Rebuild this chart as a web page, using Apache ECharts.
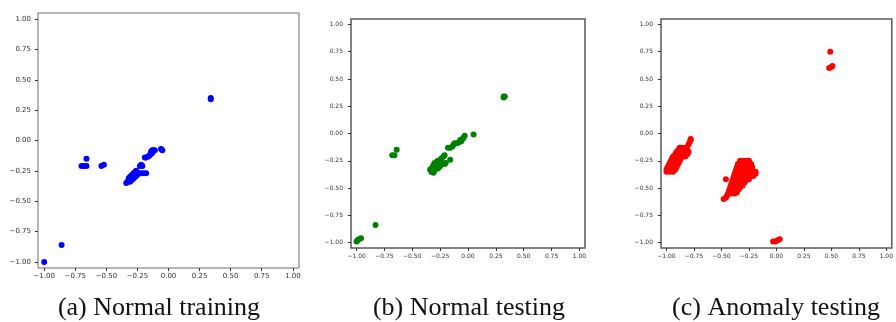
<!DOCTYPE html>
<html>
<head>
<meta charset="utf-8">
<script src="https://cdn.jsdelivr.net/npm/echarts@6/dist/echarts.min.js"></script>
<style>
  html, body { margin: 0; padding: 0; background: #fff; }
  #chart { width: 896px; height: 322px; }
</style>
</head>
<body>
<div id="chart"></div>
<script>
const tickValues = [-1, -0.75, -0.5, -0.25, 0, 0.25, 0.5, 0.75, 1];
const tickLabels = ["−1.00", "−0.75", "−0.50", "−0.25", "0.00", "0.25", "0.50", "0.75", "1.00"];
const captions = ["(a) Normal training", "(b) Normal testing", "(c) Anomaly testing"];

const normalTraining = [
  [-1.00, -1.00], [-0.86, -0.86],
  [-0.70, -0.21], [-0.68, -0.21], [-0.66, -0.21], [-0.66, -0.15],
  [-0.54, -0.21], [-0.52, -0.20],
  [-0.34, -0.35], [-0.33, -0.34], [-0.32, -0.33], [-0.31, -0.34], [-0.30, -0.33],
  [-0.32, -0.31], [-0.31, -0.30], [-0.30, -0.29], [-0.29, -0.28], [-0.28, -0.27],
  [-0.27, -0.26], [-0.29, -0.32], [-0.28, -0.31], [-0.27, -0.30], [-0.26, -0.29],
  [-0.25, -0.28], [-0.24, -0.27], [-0.22, -0.27], [-0.20, -0.27], [-0.18, -0.27],
  [-0.26, -0.25], [-0.23, -0.21], [-0.22, -0.20], [-0.21, -0.21],
  [-0.19, -0.14], [-0.18, -0.14], [-0.16, -0.13], [-0.15, -0.12], [-0.14, -0.11],
  [-0.14, -0.09], [-0.13, -0.10], [-0.12, -0.08], [-0.13, -0.08], [-0.11, -0.08],
  [-0.06, -0.07], [-0.05, -0.08],
  [0.34, 0.35], [0.34, 0.34]
];

const normalTesting = [
  [-1.00, -0.99], [-0.99, -0.98], [-0.98, -0.97], [-0.96, -0.96],
  [-0.83, -0.84],
  [-0.68, -0.20], [-0.66, -0.20], [-0.64, -0.15],
  [-0.34, -0.33], [-0.33, -0.35], [-0.31, -0.36], [-0.30, -0.34], [-0.32, -0.31],
  [-0.31, -0.29], [-0.29, -0.31], [-0.30, -0.27], [-0.28, -0.29], [-0.28, -0.26],
  [-0.27, -0.32], [-0.26, -0.28], [-0.27, -0.25], [-0.25, -0.30], [-0.25, -0.26],
  [-0.24, -0.23], [-0.23, -0.27], [-0.22, -0.21], [-0.21, -0.20], [-0.21, -0.28],
  [-0.20, -0.27], [-0.16, -0.24],
  [-0.18, -0.13], [-0.16, -0.13], [-0.14, -0.12], [-0.13, -0.10], [-0.12, -0.09],
  [-0.10, -0.09], [-0.08, -0.08], [-0.07, -0.06], [-0.06, -0.07], [-0.05, -0.05],
  [-0.04, -0.04], [-0.03, -0.02], [0.05, -0.01],
  [0.32, 0.33], [0.33, 0.34], [0.32, 0.34]
];

const anomalyTesting = [
  // left cluster
  [-1.00, -0.35], [-0.97, -0.35], [-0.94, -0.35],
  [-1.00, -0.33], [-0.97, -0.33], [-0.94, -0.33], [-0.92, -0.33],
  [-0.99, -0.31], [-0.96, -0.31], [-0.93, -0.31], [-0.91, -0.31],
  [-0.98, -0.29], [-0.95, -0.29], [-0.92, -0.29], [-0.90, -0.29],
  [-0.97, -0.27], [-0.94, -0.27], [-0.91, -0.27], [-0.89, -0.27],
  [-0.96, -0.25], [-0.93, -0.25], [-0.90, -0.25], [-0.88, -0.25],
  [-0.95, -0.23], [-0.92, -0.23], [-0.89, -0.23], [-0.87, -0.23],
  [-0.94, -0.21], [-0.91, -0.21], [-0.88, -0.21], [-0.86, -0.21], [-0.83, -0.21],
  [-0.92, -0.19], [-0.89, -0.19], [-0.86, -0.19], [-0.83, -0.19], [-0.81, -0.19],
  [-0.91, -0.17], [-0.88, -0.17], [-0.85, -0.17], [-0.82, -0.17], [-0.80, -0.17],
  [-0.89, -0.15], [-0.86, -0.15], [-0.83, -0.15], [-0.81, -0.15],
  [-0.88, -0.13], [-0.86, -0.13], [-0.83, -0.13],
  [-0.80, -0.10], [-0.79, -0.08], [-0.78, -0.06], [-0.78, -0.05],
  // middle cluster
  [-0.33, -0.25], [-0.30, -0.25], [-0.27, -0.25], [-0.25, -0.25],
  [-0.35, -0.28], [-0.32, -0.28], [-0.29, -0.28], [-0.26, -0.28], [-0.23, -0.28],
  [-0.36, -0.31], [-0.33, -0.31], [-0.30, -0.31], [-0.27, -0.31], [-0.24, -0.31], [-0.22, -0.31],
  [-0.37, -0.34], [-0.34, -0.34], [-0.31, -0.34], [-0.28, -0.34], [-0.25, -0.34], [-0.22, -0.34], [-0.19, -0.35],
  [-0.38, -0.37], [-0.35, -0.37], [-0.32, -0.37], [-0.29, -0.37], [-0.26, -0.37], [-0.23, -0.37], [-0.19, -0.37],
  [-0.39, -0.40], [-0.36, -0.40], [-0.33, -0.40], [-0.30, -0.40], [-0.27, -0.40], [-0.24, -0.40], [-0.21, -0.39],
  [-0.40, -0.43], [-0.37, -0.43], [-0.34, -0.43], [-0.31, -0.43], [-0.28, -0.43], [-0.25, -0.42],
  [-0.41, -0.46], [-0.38, -0.46], [-0.35, -0.46], [-0.32, -0.46], [-0.29, -0.45],
  [-0.42, -0.49], [-0.39, -0.49], [-0.36, -0.49], [-0.33, -0.49], [-0.31, -0.48],
  [-0.43, -0.52], [-0.40, -0.52], [-0.37, -0.52], [-0.34, -0.51],
  [-0.44, -0.55], [-0.41, -0.55], [-0.38, -0.55], [-0.36, -0.54],
  [-0.45, -0.57], [-0.46, -0.59], [-0.48, -0.60],
  [-0.46, -0.42],
  // bottom
  [-0.03, -0.99], [-0.01, -0.99], [0.01, -0.98], [0.03, -0.97],
  // top right
  [0.49, 0.75],
  [0.48, 0.60], [0.50, 0.61], [0.51, 0.62]
];

const panels = [
  { data: normalTraining, color: "#0000ff", grid: { left: 38, top: 13, width: 261, height: 255 }, font: 7, border: "#6e6e6e", bw: 1, yMargin: 7, xMargin: 5, caption: 159 },
  { data: normalTesting, color: "#008000", grid: { left: 351, top: 19, width: 234, height: 229 }, font: 6, border: "#5a5a5a", bw: 1.5, yMargin: 8, xMargin: 5, caption: 469 },
  { data: anomalyTesting, color: "#ff0000", grid: { left: 661, top: 19, width: 233, height: 229 }, font: 6, border: "#5a5a5a", bw: 1.5, yMargin: 8, xMargin: 5, caption: 776 }
];

const labelFor = (v) => {
  const i = tickValues.findIndex((t) => Math.abs(t - v) < 1e-6);
  return i >= 0 ? tickLabels[i] : "";
};

const makeAxis = (p, gridIndex, isX) => ({
  type: "value",
  gridIndex,
  min: -1.05,
  max: 1.05,
  splitLine: { show: false },
  axisLine: { show: false, onZero: false },
  axisTick: {
    show: true,
    inside: false,
    length: 3,
    customValues: tickValues,
    lineStyle: { color: "#333", width: 1 },
  },
  axisLabel: {
    customValues: tickValues,
    formatter: labelFor,
    fontFamily: "DejaVu Sans",
    fontSize: p.font,
    color: "#333",
    margin: isX ? p.xMargin : p.yMargin,
  },
});

const chart = echarts.init(document.getElementById("chart"), null, { renderer: "canvas" });

chart.setOption({
  animation: false,
  backgroundColor: "#fff",
  grid: panels.map((p) => ({
    ...p.grid,
    show: true,
    borderColor: p.border,
    borderWidth: p.bw,
    backgroundColor: "transparent",
    containLabel: false,
  })),
  xAxis: panels.map((p, i) => makeAxis(p, i, true)),
  yAxis: panels.map((p, i) => makeAxis(p, i, false)),
  series: panels.map((p, i) => ({
    type: "scatter",
    xAxisIndex: i,
    yAxisIndex: i,
    data: p.data,
    symbol: "circle",
    symbolSize: 6,
    itemStyle: { color: p.color, opacity: 1 },
  })),
  graphic: panels.map((p, i) => ({
    type: "text",
    x: p.caption,
    y: 308,
    style: {
      text: captions[i],
      font: "26px 'Liberation Serif'",
      fill: "#111",
      textAlign: "center",
      textVerticalAlign: "middle",
    },
  })),
});
</script>
</body>
</html>
